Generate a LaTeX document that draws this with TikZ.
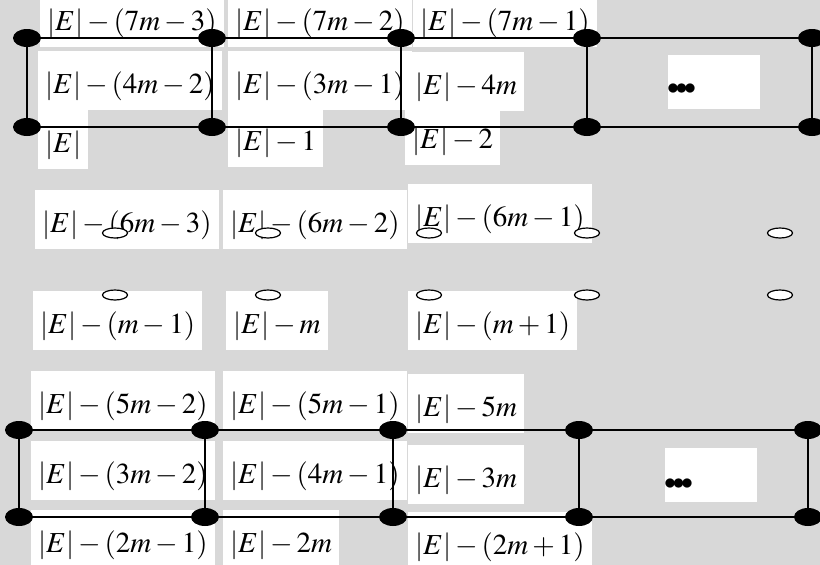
\documentclass[tikz,border=0pt]{standalone}
\usepackage{amsmath}
\usepackage{mathptmx}
\usepackage{tikz}
\usetikzlibrary{shapes.geometric, positioning}
\definecolor{wmgray}{RGB}{216,216,216}
\tikzset{
	vtx/.style={ellipse, fill=black, minimum width=28pt, minimum height=18pt, inner sep=0pt},
	hole/.style={ellipse, draw=black, line width=1.2pt, fill=white, minimum width=25pt, minimum height=10pt, inner sep=0pt},
	lbl/.style={fill=white, anchor=base west, inner xsep=7pt, inner ysep=4pt, text height=38pt, text depth=13pt},
	dotbox/.style={fill=white, minimum width=92pt, minimum height=54pt, inner sep=0pt},
	dots/.style={anchor=west, inner sep=0pt, font=\fontsize{24}{24}\selectfont},
	link/.style={line width=1.8pt}
}
\newcommand{\Ev}{\lvert E\rvert}
\newcommand{\bigdots}{$\bullet$\kern-3.6pt$\bullet$\kern-3.6pt$\bullet$}

\begin{document}
\begin{tikzpicture}[x=1pt, y=-1pt, font=\fontsize{29}{34}\selectfont]
		\fill[wmgray] (0,0) rectangle (820,565);
		\useasboundingbox (0,0) rectangle (820,565);
		% upper ladder, labels
		\node[lbl] (t1) at (40,30) {$\Ev-(7m-3)$};
		\node[lbl] (t2) at (228,30) {$\Ev-(7m-2)$};
		\node[lbl] (t3) at (413,30) {$\Ev-(7m-1)$};
		\node[lbl] (m1) at (38,93) {$\Ev-(4m-2)$};
		\node[lbl] (m2) at (228,93) {$\Ev-(3m-1)$};
		\node[lbl] (m3) at (408,94) {$\Ev-4m$};
		\node[lbl] (b1) at (38,152) {$\Ev$};
		\node[lbl] (b2) at (228,150) {$\Ev-1$};
		\node[lbl] (b3) at (405,148) {$\Ev-2$};
		\node[dotbox] (dA) at (714,82) {};
		\node[dots] (dotsA) at (667,89) {\bigdots};
		% middle labels
		\node[lbl] (c1) at (35,232) {$\Ev-(6m-3)$};
		\node[lbl] (c2) at (223,232) {$\Ev-(6m-2)$};
		\node[lbl] (c3) at (408,226) {$\Ev-(6m-1)$};
		\node[lbl] (d1) at (33,333) {$\Ev-(m-1)$};
		\node[lbl] (d2) at (226,333) {$\Ev-m$};
		\node[lbl] (d3) at (408,333) {$\Ev-(m+1)$};
		% lower ladder, labels
		\node[lbl] (p1) at (31,413) {$\Ev-(5m-2)$};
		\node[lbl] (p2) at (223,413) {$\Ev-(5m-1)$};
		\node[lbl] (p3) at (408,416) {$\Ev-5m$};
		\node[lbl] (q1) at (31,483) {$\Ev-(3m-2)$};
		\node[lbl] (q2) at (223,483) {$\Ev-(4m-1)$};
		\node[lbl] (q3) at (408,487) {$\Ev-3m$};
		\node[lbl] (r1) at (31,552) {$\Ev-(2m-1)$};
		\node[lbl] (r2) at (223,552) {$\Ev-2m$};
		\node[lbl] (r3) at (408,554) {$\Ev-(2m+1)$};
		\node[dotbox] (dB) at (711,475) {};
		\node[dots] (dotsB) at (664,484) {\bigdots};
		% vertices
		\foreach \i/\x in {1/27,2/212,3/401,4/587,5/812} {
			\node[vtx] (ta\i) at (\x,38) {};
			\node[vtx] (tb\i) at (\x,127) {};
		}
		\foreach \i/\x in {1/19,2/205,3/393,4/579,5/808} {
			\node[vtx] (ba\i) at (\x,430) {};
			\node[vtx] (bb\i) at (\x,517) {};
		}
		\foreach \i/\x in {1/115,2/268,3/429,4/587,5/780} {
			\node[hole] (h\i) at (\x,233) {};
			\node[hole] (k\i) at (\x,295) {};
		}
		% edges
		\foreach \i [count=\j from 2] in {1,...,4} {
			\draw[link] (ta\i) -- (ta\j);
			\draw[link] (tb\i) -- (tb\j);
			\draw[link] (ba\i) -- (ba\j);
			\draw[link] (bb\i) -- (bb\j);
		}
		\foreach \i in {1,...,5} {
			\draw[link] (ta\i) -- (tb\i);
			\draw[link] (ba\i) -- (bb\i);
		}
	\end{tikzpicture}
\end{document}
